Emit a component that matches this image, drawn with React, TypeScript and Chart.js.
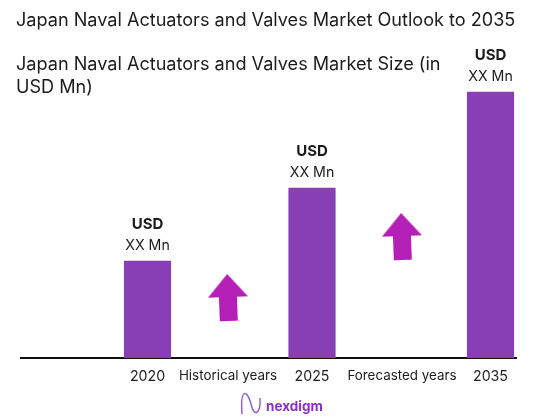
import { useEffect, useRef } from "react";
import { Chart, registerables, type Plugin } from "chart.js";

Chart.register(...registerables);

const chartTitle = "Japan Naval Actuators and Valves Market Outlook to 2035";
const chartSubtitle = ["Japan Naval Actuators and Valves Market Size (in", "USD Mn)"];

const barYears = ["2020", "2025", "2035"];
const barValues = [97, 170, 266];
const barCurrency = ["USD", "USD", "USD"];
const barAmounts = ["XX Mn", "XX Mn", "XX Mn"];

const tickLabels = ["2020", "Historical years", "2025", "Forecasted years", "2035"];
const periodLabels = ["Historical years", "Forecasted years"];
const arrowLevels = [60, 121];

const FONT = "Inter, sans-serif";
const BAR_COLOR = "#883fb6";
const ARROW_COLOR = "#b41fb6";

// the reference spaces its columns unevenly, so the x axis runs on stops, not categories
const stopByLabel: Record<string, number> = {
  "2020": 126.5,
  "Historical years": 207,
  "2025": 291,
  "Forecasted years": 381,
  "2035": 469.5,
};

function arrowImage() {
  const c = document.createElement("canvas");
  c.width = 44;
  c.height = 50;
  const ctx = c.getContext("2d")!;
  ctx.fillStyle = ARROW_COLOR;
  ctx.beginPath();
  ctx.moveTo(22, 1);
  ctx.lineTo(42, 24);
  ctx.lineTo(31, 24);
  ctx.lineTo(31, 48);
  ctx.lineTo(13, 48);
  ctx.lineTo(13, 24);
  ctx.lineTo(2, 24);
  ctx.closePath();
  ctx.fill();
  return c;
}

const headingPlugin: Plugin = {
  id: "heading",
  afterDraw(chart) {
    const { ctx } = chart;
    ctx.save();
    ctx.fillStyle = "#1c1c1c";
    ctx.textBaseline = "middle";
    ctx.font = `18.1px ${FONT}`;
    ctx.fillText(chartTitle, 16, 21);
    chartSubtitle.forEach((line, i) => ctx.fillText(line, 16, 65 + i * 23));
    ctx.restore();
  },
};

const barLabelPlugin: Plugin = {
  id: "barLabels",
  afterDatasetsDraw(chart) {
    const { ctx } = chart;
    ctx.save();
    ctx.fillStyle = "#1c1c1c";
    ctx.textAlign = "center";
    ctx.textBaseline = "middle";
    chart.getDatasetMeta(0).data.forEach((bar, i) => {
      ctx.font = `bold 15px ${FONT}`;
      ctx.fillText(barCurrency[i], bar.x, bar.y - 37);
      ctx.font = `14.2px ${FONT}`;
      ctx.fillText(barAmounts[i], bar.x, bar.y - 15);
    });
    ctx.restore();
  },
};

const logoPlugin: Plugin = {
  id: "logo",
  afterDraw(chart) {
    const { ctx } = chart;
    ctx.save();
    ctx.strokeStyle = "#9a5fd0";
    ctx.lineWidth = 1.5;
    ctx.beginPath();
    ctx.moveTo(242, 414);
    ctx.bezierCurveTo(240, 385, 248, 392, 251, 404);
    ctx.bezierCurveTo(254, 418, 261, 414, 260, 398);
    ctx.stroke();
    ctx.fillStyle = "#8a2fc4";
    ctx.textBaseline = "middle";
    ctx.font = `bold 13.5px ${FONT}`;
    ctx.fillText("nexdigm", 266, 407);
    ctx.restore();
  },
};

export default function App() {
  const canvasRef = useRef<HTMLCanvasElement>(null);

  useEffect(() => {
    const canvas = canvasRef.current;
    if (!canvas) return;
    const chart = new Chart(canvas, {
      type: "bar",
      data: {
        datasets: [
          {
            type: "bar",
            data: barYears.map((year, i) => ({ x: stopByLabel[year], y: barValues[i] })),
            backgroundColor: BAR_COLOR,
            barThickness: 46.5,
            order: 2,
          },
          {
            type: "scatter",
            data: periodLabels.map((label, i) => ({ x: stopByLabel[label], y: arrowLevels[i] })),
            pointStyle: arrowImage(),
            pointRotation: -2,
            order: 1,
          },
        ],
      } as any,
      options: {
        animation: false,
        responsive: false,
        layout: { padding: { left: 21, right: 33, top: 58, bottom: 0 } },
        plugins: { legend: { display: false }, tooltip: { enabled: false } },
        scales: {
          x: {
            type: "linear",
            offset: false,
            min: 0,
            max: 495,
            grid: { display: false },
            border: { color: "#111", width: 2 },
            afterFit(scale: any) {
              scale.height = 60;
            },
            afterBuildTicks(scale: any) {
              scale.ticks = tickLabels.map((label) => ({ value: stopByLabel[label] }));
            },
            ticks: {
              autoSkip: false,
              maxRotation: 0,
              padding: 2,
              color: "#1c1c1c",
              font: (c: any) => ({
                family: FONT,
                size: periodLabels.includes(tickLabels[c.index]) ? 13.4 : 14.2,
              }),
              callback: (_v: any, i: number) => tickLabels[i],
            },
          },
          y: { display: false, min: 0, max: 300 },
        },
      },
      plugins: [headingPlugin, barLabelPlugin, logoPlugin],
    });
    return () => chart.destroy();
  }, []);

  return (
    <div style={{ position: "absolute", left: 0, top: 0 }}>
      <canvas ref={canvasRef} width={549} height={418} style={{ display: "block" }} />
    </div>
  );
}
